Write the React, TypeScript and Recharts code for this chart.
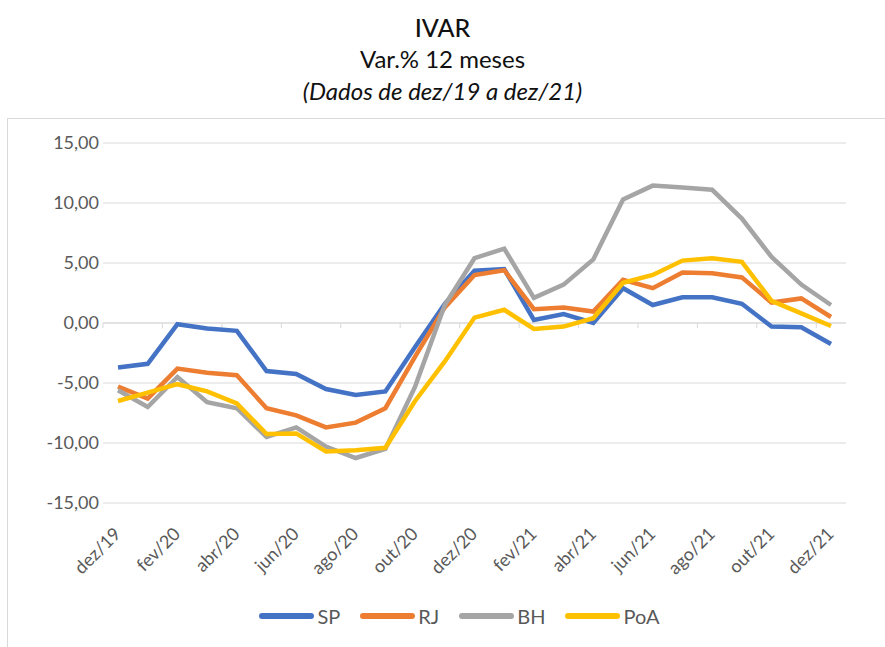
import { LineChart, Line, XAxis, YAxis, CartesianGrid, Legend, ReferenceLine } from 'recharts'

const months = [
  'dez/19', 'jan/20', 'fev/20', 'mar/20', 'abr/20', 'mai/20', 'jun/20', 'jul/20', 'ago/20', 'set/20', 'out/20', 'nov/20',
  'dez/20', 'jan/21', 'fev/21', 'mar/21', 'abr/21', 'mai/21', 'jun/21', 'jul/21', 'ago/21', 'set/21', 'out/21', 'nov/21', 'dez/21',
]
const sp = [-3.7, -3.4, -0.1, -0.45, -0.65, -4.0, -4.25, -5.5, -6.0, -5.7, -2.0, 1.6, 4.35, 4.5, 0.25, 0.75, 0.0, 2.9, 1.5, 2.15, 2.15, 1.6, -0.3, -0.35, -1.75]
const rj = [-5.3, -6.3, -3.8, -4.15, -4.35, -7.1, -7.7, -8.7, -8.3, -7.1, -2.8, 1.3, 4.0, 4.4, 1.15, 1.3, 0.95, 3.6, 2.9, 4.2, 4.15, 3.8, 1.7, 2.05, 0.5]
const bh = [-5.6, -7.0, -4.5, -6.6, -7.1, -9.5, -8.7, -10.3, -11.25, -10.5, -5.3, 1.5, 5.4, 6.2, 2.1, 3.2, 5.3, 10.3, 11.45, 11.3, 11.1, 8.7, 5.5, 3.2, 1.5]
const poa = [-6.5, -5.8, -5.1, -5.7, -6.7, -9.25, -9.2, -10.7, -10.6, -10.4, -6.5, -3.2, 0.45, 1.1, -0.5, -0.3, 0.4, 3.35, 4.0, 5.2, 5.4, 5.1, 1.85, 0.8, -0.25]
const yTicks = [-15, -10, -5, 0, 5, 10, 15]

const series = [
  { key: 'SP', color: '#4472C4' },
  { key: 'RJ', color: '#ED7D31' },
  { key: 'BH', color: '#A5A5A5' },
  { key: 'PoA', color: '#FFC000' },
]

const data = months.map((m, i) => ({ m, SP: sp[i], RJ: rj[i], BH: bh[i], PoA: poa[i] }))

const font = 'Lato, "Open Sans", sans-serif'
const fmt = (v: number) => v.toFixed(2).replace('.', ',')

// eixo em y=0 com tracinhos a cada 2 meses (como no Excel)
// eslint-disable-next-line @typescript-eslint/no-explicit-any
const ZeroAxis = (p: any) => {
  const { x1, y1, x2 } = p
  const step = (x2 - x1) / months.length
  const ticks = []
  for (let k = 0; k < months.length; k += 2) {
    const x = x1 + k * step
    ticks.push(<line key={k} x1={x} x2={x} y1={y1} y2={y1 + 5} stroke="#d9d9d9" strokeWidth={1} />)
  }
  return (
    <g>
      <line x1={x1} x2={x2} y1={y1} y2={y1} stroke="#d9d9d9" strokeWidth={1} />
      {ticks}
    </g>
  )
}

// eslint-disable-next-line @typescript-eslint/no-explicit-any
const MonthTick = ({ x, y, payload }: any) => {
  const tx = x + 4
  const ty = y + 32
  return (
    <text x={tx} y={ty} transform={`rotate(-45, ${tx}, ${ty})`} textAnchor="end" fontSize={18} fill="#595959" fontFamily={font}>
      {payload.value}
    </text>
  )
}

const LegendContent = () => (
  <div style={{ display: 'flex', justifyContent: 'center', gap: 20, fontFamily: font, fontSize: 20, color: '#595959' }}>
    {series.map((s) => (
      <div key={s.key} style={{ display: 'flex', alignItems: 'center', gap: 3 }}>
        <span style={{ display: 'inline-block', width: 55, height: 6, borderRadius: 3, background: s.color }} />
        <span>{s.key}</span>
      </div>
    ))}
  </div>
)

export default function App() {
  return (
    <div style={{ position: 'absolute', left: 0, top: 0, width: 885, height: 647, background: '#fff', overflow: 'hidden' }}>
      <div style={{ position: 'absolute', left: 7, top: 118, width: 890, height: 600, border: '1px solid #d9d9d9' }} />
      <div style={{ position: 'absolute', left: 0, width: 885, top: 11, textAlign: 'center', fontFamily: font, color: '#111' }}>
        <div style={{ fontSize: 25, lineHeight: '32px', fontWeight: 500 }}>IVAR</div>
        <div style={{ fontSize: 24, lineHeight: '32px' }}>Var.% 12 meses</div>
        <div style={{ fontSize: 24, lineHeight: '31px', fontStyle: 'italic' }}>(Dados de dez/19 a dez/21)</div>
      </div>
      <div style={{ position: 'absolute', left: 0, top: 0 }}>
        <LineChart width={885} height={647} data={data} margin={{ top: 143, right: 39, left: 0, bottom: 0 }}>
          <CartesianGrid vertical={false} stroke="#d9d9d9" strokeWidth={1} />
          <XAxis
            dataKey="m"
            interval={1}
            height={144}
            padding={{ left: 15, right: 15 }}
            axisLine={false}
            tickLine={false}
            tickSize={0}
            tickMargin={0}
            tick={MonthTick}
          />
          <YAxis
            domain={[-15, 15]}
            ticks={yTicks}
            width={103}
            axisLine={false}
            tickLine={false}
            tickSize={0}
            tickMargin={4}
            tickFormatter={fmt}
            tick={{ fontSize: 18, fill: '#595959', fontFamily: font }}
          />
          <ReferenceLine y={0} shape={ZeroAxis} />
          {series.map((s) => (
            <Line
              key={s.key}
              type="linear"
              dataKey={s.key}
              stroke={s.color}
              strokeWidth={4.5}
              dot={false}
              isAnimationActive={false}
            />
          ))}
          <Legend
            verticalAlign="middle"
            align="center"
            content={LegendContent}
            wrapperStyle={{ top: 604, left: 17, width: 885 }}
          />
        </LineChart>
      </div>
    </div>
  )
}
